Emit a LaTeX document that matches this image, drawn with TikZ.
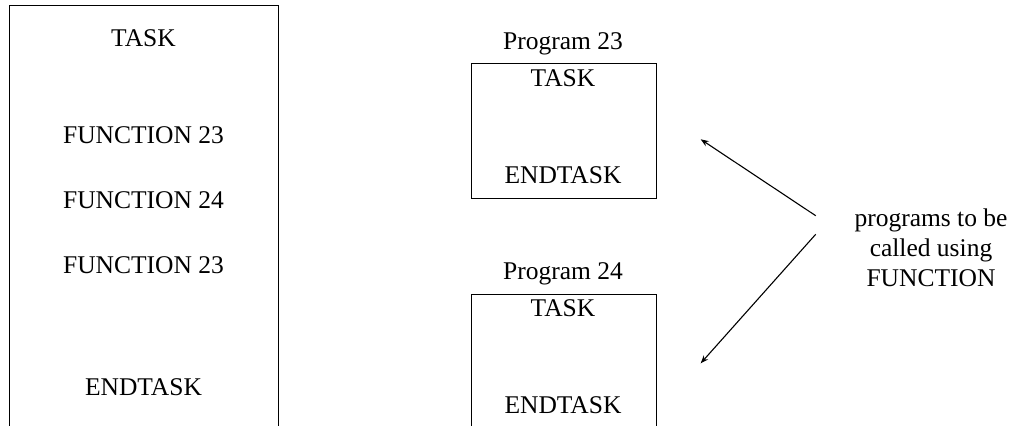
\documentclass[tikz,border=0pt]{standalone}
\usepackage{fontspec}
\setmainfont{Liberation Serif}
\usetikzlibrary{arrows.meta}
\begin{document}
\begin{tikzpicture}[x=1pt,y=-1pt,
  lbl/.style={anchor=base,inner sep=0pt,font=\fontsize{25.5}{30}\selectfont},
  frame/.style={draw,line width=1.1pt,inner sep=0pt,anchor=north west},
  arr/.style={line width=1.1pt,-{Stealth[length=8pt,width=6pt]}}]
\useasboundingbox (0,0) rectangle (1021,426);
\clip (0,0) rectangle (1021,426);
% left box
\node[frame,minimum width=269pt,minimum height=460pt] (main) at (9,5) {};
\node[lbl] (t0) at (143.5,46.7) {TASK};
\node[lbl] (f1) at (143.5,143.3) {FUNCTION 23};
\node[lbl] (f2) at (143.5,208.3) {FUNCTION 24};
\node[lbl] (f3) at (143.5,273.3) {FUNCTION 23};
\node[lbl] (e0) at (143.5,395) {ENDTASK};
% program 23
\node[frame,minimum width=185pt,minimum height=135pt] (p23) at (470.5,62.5) {};
\node[lbl] (p23l) at (563,49.3) {Program 23};
\node[lbl] (p23t) at (563,86.7) {TASK};
\node[lbl] (p23e) at (563,183) {ENDTASK};
% program 24
\node[frame,minimum width=185pt,minimum height=200pt] (p24) at (470.5,293.5) {};
\node[lbl] (p24l) at (563,279.3) {Program 24};
\node[lbl] (p24t) at (563,316.7) {TASK};
\node[lbl] (p24e) at (563,413.3) {ENDTASK};
% note
\node[lbl,anchor=center,align=center,font=\fontsize{25.5}{30}\selectfont] (note) at (931,248) {programs to be\\called using\\FUNCTION};
\coordinate (a1s) at (815.7,215.7);
\coordinate (a1e) at (700.7,139.3);
\coordinate (a2s) at (815.7,234.3);
\coordinate (a2e) at (700.7,363.3);
\draw[arr] (a1s) -- (a1e);
\draw[arr] (a2s) -- (a2e);
\end{tikzpicture}
\end{document}
